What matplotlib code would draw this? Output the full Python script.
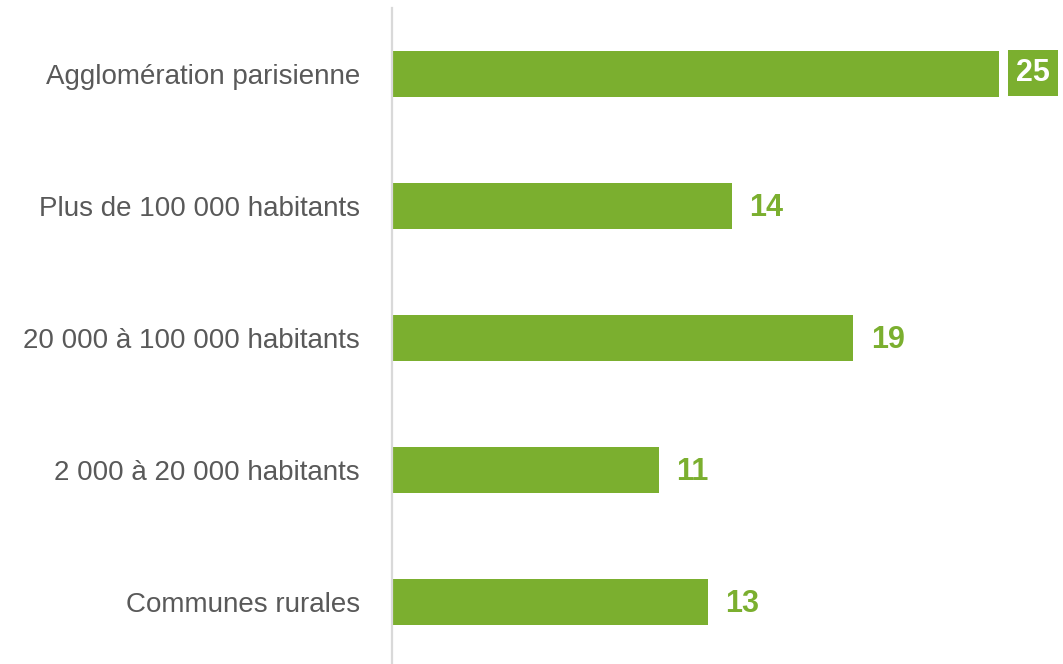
import matplotlib.pyplot as plt

categories = ["Agglomération parisienne", "Plus de 100 000 habitants",
              "20 000 à 100 000 habitants", "2 000 à 20 000 habitants",
              "Communes rurales"]
values = [25, 14, 19, 11, 13]

green = "#7BAF2F"
grey_text = "#595959"

plt.rcParams['font.family'] = ['Liberation Sans', 'DejaVu Sans']

fig = plt.figure(figsize=(10.63, 6.64), dpi=100)
ax = fig.add_axes([392 / 1063, -4 / 664, 671 / 1063, 660 / 664])

y = list(range(len(categories)))
ax.barh(y, values, height=0.356, color=green, left=0)
ax.set_ylim(len(categories) - 0.5, -0.5)
ax.set_xlim(0, 671 / 24.28)

ax.set_yticks(y)
ax.set_yticklabels(categories, fontsize=20, color=grey_text)
ax.tick_params(axis="y", length=0, pad=23)
ax.set_xticks([])

for side in ["top", "right", "bottom"]:
    ax.spines[side].set_visible(False)
ax.spines["left"].set_color("#D9D9D9")
ax.spines["left"].set_linewidth(1.6)

for i, v in enumerate(values):
    if i == 0:
        ax.annotate(str(v), (v, i), xytext=(12.5, 0.5), textcoords="offset points",
                    ha="left", va="center", fontsize=22, fontweight="bold",
                    color="white",
                    bbox=dict(boxstyle="square,pad=0.26", fc=green, ec="none"))
    else:
        ax.annotate(str(v), (v, i), xytext=(12.5, -1.5), textcoords="offset points",
                    ha="left", va="center", fontsize=22, fontweight="bold",
                    color=green)

plt.savefig("out.png", dpi=100)
